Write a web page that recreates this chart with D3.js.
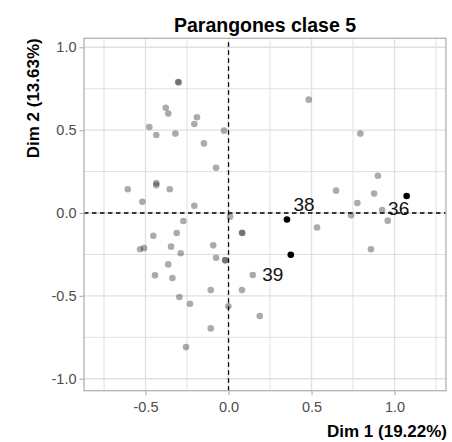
<!DOCTYPE html>
<html>
<head>
<meta charset="UTF-8">
<title>Parangones clase 5</title>
<script src="https://cdn.jsdelivr.net/npm/d3@7"></script>
<style>
    body { margin: 0; background: #fff; font-family: 'Liberation Sans', Arial, sans-serif; }
    .grid line { stroke: #e0e0e0; }
    .tick text { fill: #4d4d4d; font-size: 14.5px; }
</style>
</head>
<body>
<div id="chart"></div>
<script>
// individuals (Dim 1, Dim 2) - grey
const dim1 = [-0.304, -0.300, -0.378, -0.363, -0.190, -0.206, -0.477, -0.435, -0.320, -0.027,
              -0.148, -0.075, -0.607, -0.435, -0.435, -0.354, -0.519, -0.206, 0.009, -0.272,
              0.081, 0.083, -0.453, -0.312, -0.533, -0.509, -0.346, -0.092, -0.288, -0.075,
              -0.019, -0.021, -0.363, -0.443, -0.338, -0.107, 0.081, -0.296, -0.232, -0.001,
              -0.107, -0.256, 0.483, 0.794, 0.900, 0.648, 0.877, 0.776, 0.925, 0.738,
              0.959, 0.533, 0.858, 0.146, 0.188];
const dim2 = [0.790, 0.788, 0.635, 0.600, 0.578, 0.537, 0.519, 0.471, 0.479, 0.497,
              0.420, 0.273, 0.143, 0.180, 0.168, 0.143, 0.068, 0.044, -0.022, -0.048,
              -0.119, -0.121, -0.137, -0.121, -0.219, -0.211, -0.203, -0.195, -0.243, -0.270,
              -0.286, -0.284, -0.310, -0.376, -0.392, -0.465, -0.465, -0.507, -0.547, -0.563,
              -0.696, -0.809, 0.684, 0.479, 0.225, 0.135, 0.117, 0.060, 0.018, -0.014,
              -0.046, -0.087, -0.219, -0.374, -0.622];

// paragons (black, labelled)
const parIds = ["36", "38", "39"];
const parDim1 = [1.073, 0.352, 0.375];
const parDim2 = [0.103, -0.039, -0.252];

const xTicks = [-0.5, 0, 0.5, 1.0];
const yTicks = [-1.0, -0.5, 0, 0.5, 1.0];
const xMinor = [-0.75, -0.25, 0.25, 0.75, 1.25];
const yMinor = [-0.75, -0.25, 0.25, 0.75];

const W = 452, H = 442;
const margin = { left: 84, right: 6, top: 38.3, bottom: 51.3 };
// label nudges in px (ggrepel-like placement)
const labelOff = { "36": [-8, 19.5], "38": [17, -8.5], "39": [-18, 26] };

const svg = d3.select("#chart").append("svg")
    .attr("width", W).attr("height", H);

const x = d3.scaleLinear().domain([-0.8705, 1.310]).range([margin.left, W - margin.right]);
const y = d3.scaleLinear().domain([-1.072, 1.054]).range([H - margin.bottom, margin.top]);

// grid
const grid = svg.append("g").attr("class", "grid");
grid.selectAll(".vmin").data(xMinor).enter().append("line")
    .attr("x1", d => x(d)).attr("x2", d => x(d))
    .attr("y1", y.range()[0]).attr("y2", y.range()[1]).attr("stroke-width", 1);
grid.selectAll(".hmin").data(yMinor).enter().append("line")
    .attr("y1", d => y(d)).attr("y2", d => y(d))
    .attr("x1", x.range()[0]).attr("x2", x.range()[1]).attr("stroke-width", 1);
grid.selectAll(".vmaj").data(xTicks).enter().append("line")
    .attr("x1", d => x(d)).attr("x2", d => x(d))
    .attr("y1", y.range()[0]).attr("y2", y.range()[1]).attr("stroke-width", 1.3);
grid.selectAll(".hmaj").data(yTicks).enter().append("line")
    .attr("y1", d => y(d)).attr("y2", d => y(d))
    .attr("x1", x.range()[0]).attr("x2", x.range()[1]).attr("stroke-width", 1.3);

// axes
const fmt = d => d3.format(".1f")(d).replace("−", "-");
const xAxis = svg.append("g")
    .attr("transform", `translate(0,${H - margin.bottom})`)
    .call(d3.axisBottom(x).tickValues(xTicks).tickFormat(fmt).tickSizeInner(4.5).tickSizeOuter(0).tickPadding(3));
const yAxis = svg.append("g")
    .attr("transform", `translate(${margin.left},0)`)
    .call(d3.axisLeft(y).tickValues(yTicks).tickFormat(fmt).tickSizeInner(4.5).tickSizeOuter(0).tickPadding(3));
[xAxis, yAxis].forEach(a => {
    a.select(".domain").remove();
    a.selectAll(".tick line").attr("stroke", "#b3b3b3").attr("stroke-width", 1.2);
    a.selectAll(".tick text").attr("font-family", "'Liberation Sans', Arial, sans-serif");
});
xAxis.selectAll(".tick text").attr("dy", "0.95em");

// reference lines
svg.append("line")
    .attr("x1", x.range()[0]).attr("x2", x.range()[1])
    .attr("y1", y(0)).attr("y2", y(0))
    .attr("stroke", "#000").attr("stroke-width", 1.3).attr("stroke-dasharray", "4.5,3.5");
svg.append("line")
    .attr("x1", x(0)).attr("x2", x(0))
    .attr("y1", y.range()[0]).attr("y2", y.range()[1])
    .attr("stroke", "#000").attr("stroke-width", 1.3).attr("stroke-dasharray", "4.5,3.5");

// points
svg.append("g").selectAll("circle")
    .data(dim1.map((d, i) => [d, dim2[i]]))
    .enter().append("circle")
    .attr("cx", d => x(d[0])).attr("cy", d => y(d[1]))
    .attr("r", 3.3).attr("fill", "#000").attr("fill-opacity", 0.33);

svg.append("g").selectAll("circle")
    .data(parIds.map((id, i) => ({ id, a: parDim1[i], b: parDim2[i] })))
    .enter().append("circle")
    .attr("cx", d => x(d.a)).attr("cy", d => y(d.b))
    .attr("r", 3.3).attr("fill", "#000");

svg.append("g").selectAll("text")
    .data(parIds.map((id, i) => ({ id, a: parDim1[i], b: parDim2[i] })))
    .enter().append("text")
    .attr("x", d => x(d.a) + labelOff[d.id][0])
    .attr("y", d => y(d.b) + labelOff[d.id][1])
    .attr("text-anchor", "middle")
    .attr("font-size", "19px").attr("fill", "#111")
    .text(d => d.id);

// panel border
svg.append("rect")
    .attr("x", x.range()[0]).attr("y", y.range()[1])
    .attr("width", x.range()[1] - x.range()[0]).attr("height", y.range()[0] - y.range()[1])
    .attr("fill", "none").attr("stroke", "#b3b3b3").attr("stroke-width", 1.3);

// titles
svg.append("text")
    .attr("x", (x.range()[0] + x.range()[1]) / 2).attr("y", 31.5)
    .attr("text-anchor", "middle").attr("font-weight", "bold").attr("font-size", "19.5px")
    .text("Parangones clase 5");
svg.append("text")
    .attr("x", x.range()[1] + 1).attr("y", 437)
    .attr("text-anchor", "end").attr("font-weight", "bold").attr("font-size", "17px")
    .text("Dim 1 (19.22%)");
svg.append("text")
    .attr("transform", `translate(39.3,${y.range()[1]}) rotate(-90)`)
    .attr("text-anchor", "end").attr("font-weight", "bold").attr("font-size", "17px")
    .text("Dim 2 (13.63%)");
</script>
</body>
</html>
